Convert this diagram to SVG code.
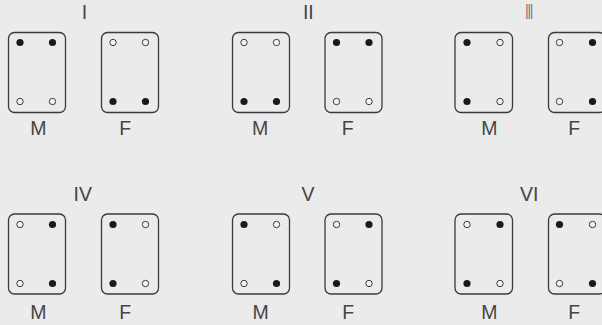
<svg xmlns="http://www.w3.org/2000/svg" width="602" height="325" viewBox="0 0 602 325">
<style>
.bg{fill:#ebebeb}
.box{fill:none;stroke:#3a3a3a;stroke-width:1.3}
.f{fill:#1a1a1a}
.o{fill:#f4f4f4;stroke:#3a3a3a;stroke-width:1}
.t{font-family:"Liberation Sans","Noto Sans CJK SC",sans-serif;font-size:19.5px;fill:#454545;text-anchor:middle}
</style>
<rect class="bg" x="0" y="0" width="602" height="325"/>
<g id="panel-I">
<text class="t" x="84.5" y="18.5">I</text>
<g id="I-M"><rect class="box" x="8.5" y="32.5" width="57" height="80" rx="6"/>
<circle class="f" cx="20" cy="42.5" r="3.6"/><circle class="f" cx="52.5" cy="42.5" r="3.6"/>
<circle class="o" cx="20" cy="101.5" r="3.2"/><circle class="o" cx="52.5" cy="101.5" r="3.2"/>
<text class="t" x="38.3" y="135">M</text></g>
<g id="I-F"><rect class="box" x="101.5" y="32.5" width="57" height="80" rx="6"/>
<circle class="o" cx="113" cy="42.5" r="3.2"/><circle class="o" cx="145.5" cy="42.5" r="3.2"/>
<circle class="f" cx="113" cy="101.5" r="3.6"/><circle class="f" cx="145.5" cy="101.5" r="3.6"/>
<text class="t" x="125.3" y="135">F</text></g>
</g>
<g id="panel-II">
<text class="t" x="308.3" y="18.5">II</text>
<g id="II-M"><rect class="box" x="232.5" y="32.5" width="57" height="80" rx="6"/>
<circle class="o" cx="244" cy="42.5" r="3.2"/><circle class="o" cx="276.5" cy="42.5" r="3.2"/>
<circle class="f" cx="244" cy="101.5" r="3.6"/><circle class="f" cx="276.5" cy="101.5" r="3.6"/>
<text class="t" x="260" y="135">M</text></g>
<g id="II-F"><rect class="box" x="325" y="32.5" width="57" height="80" rx="6"/>
<circle class="f" cx="336.5" cy="42.5" r="3.6"/><circle class="f" cx="369" cy="42.5" r="3.6"/>
<circle class="o" cx="336.5" cy="101.5" r="3.2"/><circle class="o" cx="369" cy="101.5" r="3.2"/>
<text class="t" x="347.7" y="135">F</text></g>
</g>
<g id="panel-III">
<text class="t" x="529.3" y="18.5" textLength="8" lengthAdjust="spacingAndGlyphs">Ⅲ</text>
<g id="III-M"><rect class="box" x="455" y="32.5" width="57.5" height="80" rx="6"/>
<circle class="f" cx="467" cy="42.5" r="3.6"/><circle class="o" cx="500" cy="42.5" r="3.2"/>
<circle class="f" cx="467" cy="101.5" r="3.6"/><circle class="o" cx="500" cy="101.5" r="3.2"/>
<text class="t" x="489.3" y="135">M</text></g>
<g id="III-F"><rect class="box" x="548.5" y="32.5" width="57" height="80" rx="6"/>
<circle class="o" cx="559.5" cy="42.5" r="3.2"/><circle class="f" cx="592.5" cy="42.5" r="3.6"/>
<circle class="o" cx="559.5" cy="101.5" r="3.2"/><circle class="f" cx="592.5" cy="101.5" r="3.6"/>
<text class="t" x="574.3" y="135">F</text></g>
</g>
<g id="panel-IV">
<text class="t" x="82.7" y="200.5">IV</text>
<g id="IV-M"><rect class="box" x="8.5" y="214" width="57" height="80" rx="6"/>
<circle class="o" cx="20" cy="224.5" r="3.2"/><circle class="f" cx="52.5" cy="224.5" r="3.6"/>
<circle class="o" cx="20" cy="283.5" r="3.2"/><circle class="f" cx="52.5" cy="283.5" r="3.6"/>
<text class="t" x="38.3" y="318.5">M</text></g>
<g id="IV-F"><rect class="box" x="101.5" y="214" width="57" height="80" rx="6"/>
<circle class="f" cx="113" cy="224.5" r="3.6"/><circle class="o" cx="145.5" cy="224.5" r="3.2"/>
<circle class="f" cx="113" cy="283.5" r="3.6"/><circle class="o" cx="145.5" cy="283.5" r="3.2"/>
<text class="t" x="125.3" y="318.5">F</text></g>
</g>
<g id="panel-V">
<text class="t" x="308" y="200.5">V</text>
<g id="V-M"><rect class="box" x="232.5" y="214" width="57" height="80" rx="6"/>
<circle class="f" cx="244" cy="224.5" r="3.6"/><circle class="o" cx="276.5" cy="224.5" r="3.2"/>
<circle class="o" cx="244" cy="283.5" r="3.2"/><circle class="f" cx="276.5" cy="283.5" r="3.6"/>
<text class="t" x="260.7" y="318.5">M</text></g>
<g id="V-F"><rect class="box" x="325" y="214" width="57" height="80" rx="6"/>
<circle class="o" cx="336.5" cy="224.5" r="3.2"/><circle class="f" cx="369" cy="224.5" r="3.6"/>
<circle class="f" cx="336.5" cy="283.5" r="3.6"/><circle class="o" cx="369" cy="283.5" r="3.2"/>
<text class="t" x="348.3" y="318.5">F</text></g>
</g>
<g id="panel-VI">
<text class="t" x="529.3" y="200.5">VI</text>
<g id="VI-M"><rect class="box" x="455" y="214" width="57.5" height="80" rx="6"/>
<circle class="o" cx="467" cy="224.5" r="3.2"/><circle class="f" cx="500" cy="224.5" r="3.6"/>
<circle class="f" cx="467" cy="283.5" r="3.6"/><circle class="o" cx="500" cy="283.5" r="3.2"/>
<text class="t" x="489.3" y="318.5">M</text></g>
<g id="VI-F"><rect class="box" x="548.5" y="214" width="57" height="80" rx="6"/>
<circle class="f" cx="559.5" cy="224.5" r="3.6"/><circle class="o" cx="592.5" cy="224.5" r="3.2"/>
<circle class="o" cx="559.5" cy="283.5" r="3.2"/><circle class="f" cx="592.5" cy="283.5" r="3.6"/>
<text class="t" x="574.3" y="318.5">F</text></g>
</g>
<g id="connectors"/>
</svg>
